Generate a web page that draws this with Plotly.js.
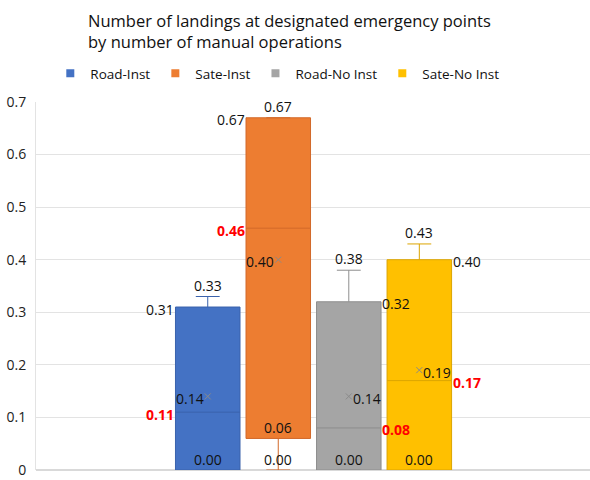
<!DOCTYPE html>
<html>
<head>
<meta charset="utf-8">
<script src="https://cdn.plot.ly/plotly-3.0.1.min.js"></script>
<style>html,body{margin:0;padding:0;background:#fff;}#chart{width:590px;height:480px;}</style>
</head>
<body>
<div id="chart"></div>
<script>
// ---- data ----
var seriesNames = ["Road-Inst", "Sate-Inst", "Road-No Inst", "Sate-No Inst"];
var minVals    = [0.00, 0.00, 0.00, 0.00];
var q1Vals     = [0.00, 0.06, 0.00, 0.00];
var medianVals = [0.11, 0.46, 0.08, 0.17];
var q3Vals     = [0.31, 0.67, 0.32, 0.40];
var maxVals    = [0.33, 0.67, 0.38, 0.43];
var meanVals   = [0.14, 0.40, 0.14, 0.19];
var yTickVals  = [0, 0.1, 0.2, 0.3, 0.4, 0.5, 0.6, 0.7];
var yTickText  = ["0", "0.1", "0.2", "0.3", "0.4", "0.5", "0.6", "0.7"];

// ---- styles ----
var fills = ["#4472C4", "#ED7D31", "#A5A5A5", "#FFC000"];
var lines = ["#3A62AC", "#D2692A", "#8E8E8E", "#DCA500"];
var boxW = 0.915, half = boxW / 2;
var font = "Open Sans, Noto Sans, sans-serif";

var traces = [];
seriesNames.forEach(function (n, i) {
  traces.push({
    type: "box", name: n, x: [i], showlegend: false,
    q1: [q1Vals[i]], median: [medianVals[i]], q3: [q3Vals[i]],
    lowerfence: [minVals[i]], upperfence: [maxVals[i]],
    width: boxW, whiskerwidth: 0.37,
    fillcolor: fills[i], line: {color: lines[i], width: 1},
    boxpoints: false, hoverinfo: "skip"
  });
});
// mean markers
traces.push({
  type: "scatter", mode: "markers", x: [0, 1, 2, 3], y: meanVals, showlegend: false,
  marker: {symbol: "x-thin-open", size: 6, line: {color: "#8a8a8a", width: 1}, color: "#8a8a8a"},
  hoverinfo: "skip"
});
// legend entries
seriesNames.forEach(function (n, i) {
  traces.push({
    type: "scatter", mode: "markers", x: [null], y: [null], name: n,
    marker: {symbol: "square", size: 8, color: fills[i]}
  });
});

function f2(v) { return v.toFixed(2); }
var ann = [];
function lab(x, y, t, xa, ya, opts) {
  var a = {x: x, y: y, xref: "x", yref: "y", text: t, showarrow: false,
    xanchor: xa, yanchor: ya, font: {family: font, size: 14, color: "#111"}, borderpad: 0};
  if (opts) for (var k in opts) a[k] = opts[k];
  ann.push(a);
}
var red = {family: font, size: 14, color: "#FF0000", weight: "bold"};
// side (-1 left, +1 right) for q3/median labels, and mean label side
var sideQ3   = [-1, -1, 1, 1];
var sideMean = [-1, -1, 1, 1];
for (var i = 0; i < 4; i++) {
  var edge = i + sideQ3[i] * half;
  var xa = sideQ3[i] < 0 ? "right" : "left";
  lab(i, maxVals[i], f2(maxVals[i]), "center", "bottom", {yshift: 1});
  lab(edge, q3Vals[i], f2(q3Vals[i]), xa, "middle", {yshift: -2});
  lab(edge, medianVals[i], f2(medianVals[i]), xa, "middle", {font: red, yshift: -2});
  lab(i + sideMean[i] * 0.04, meanVals[i], f2(meanVals[i]), sideMean[i] < 0 ? "right" : "left", "middle", {yshift: -2});
  lab(i, minVals[i], f2(minVals[i]), "center", "bottom", {yshift: 0});
  if (q1Vals[i] > minVals[i]) lab(i, q1Vals[i], f2(q1Vals[i]), "center", "bottom", {yshift: 0});
}

var layout = {
  width: 590, height: 480,
  margin: {l: 36, r: 0, t: 102, b: 10, pad: 0},
  paper_bgcolor: "#fff", plot_bgcolor: "#fff",
  font: {family: font, size: 14, color: "#222"},
  title: {text: "Number of landings at designated emergency points<br>by number of manual operations",
    x: 88 / 590, xanchor: "left", xref: "container", y: 1 - 27 / 480, yanchor: "top",
    font: {family: font, size: 16.5, color: "#111"}},
  showlegend: true,
  legend: {orientation: "h", x: 0.47, xref: "container", xanchor: "center", y: 1 - 58 / 480, yref: "container", yanchor: "top",
    font: {family: font, size: 13.5, color: "#111"}, itemwidth: 30, traceorder: "normal", tracegroupgap: 0},
  xaxis: {range: [-2.435, 5.42], showticklabels: false, showgrid: false, zeroline: false,
    showline: false, ticks: "", fixedrange: true},
  yaxis: {range: [0, 0.7], tickvals: yTickVals, ticktext: yTickText, showgrid: true,
    gridcolor: "#E3E3E3", gridwidth: 1, zeroline: true, zerolinecolor: "#D9D9D9", zerolinewidth: 1.5,
    showline: true, linecolor: "#E3E3E3", ticks: "", ticklabelstandoff: 6, ticklabeloverflow: "allow",
    tickfont: {family: font, size: 14, color: "#222"}},
  annotations: ann,
  hovermode: false
};
Plotly.newPlot("chart", traces, layout, {displayModeBar: false, staticPlot: true});
</script>
</body>
</html>
